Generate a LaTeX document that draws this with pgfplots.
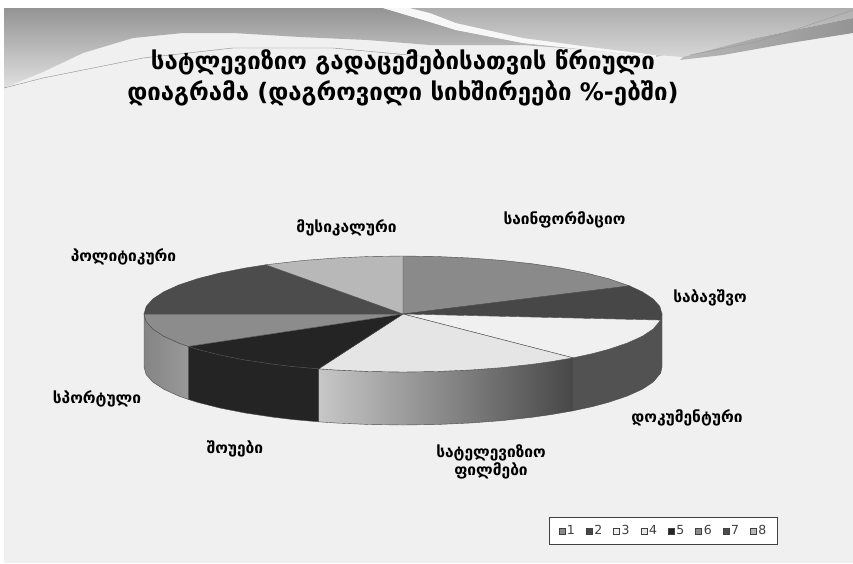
\documentclass[border=0pt]{standalone}
\usepackage{pgfplots}
\pgfplotsset{compat=1.18}
\usepackage{fontspec}
\setmainfont{DejaVu Sans}
\begin{document}
\begin{tikzpicture}
\begin{axis}[
  width=853pt, height=563pt, scale only axis,
  xmin=0, xmax=853, ymin=0, ymax=563, y dir=reverse,
  axis lines=none, clip=true,
  legend columns=8,
  legend style={at={(axis cs:663.5,531)}, anchor=center, draw=black!75, fill=white,
    font=\fontsize{12.5}{13}\selectfont\color{black!75}, inner xsep=9pt, inner ysep=6pt,
    /tikz/every even column/.append style={column sep=9pt}},
  legend image code/.code={\draw[#1,draw=black!75] (0pt,-3pt) rectangle (6pt,3pt);},
]
% page and background
\addplot[forget plot, draw=none, fill=white] coordinates {(0,0)(853,0)(853,563)(0,563)} -- cycle;
\addplot[forget plot, draw=none, fill=black!6] coordinates {(4,8)(853,8)(853,563)(4,563)} -- cycle;
% banner, left part
\addplot[forget plot, draw=none, top color=black!42, bottom color=black!12] coordinates {
  (4,8)(383,8)(430,22)(456,30)(523,43)(590,50)(656,57)(663,55)(590,50)(523,45)(430,45)(367,40)(300,37)(233,33)(183,33)(133,38)(83,53)(43,72)(4,88)} -- cycle;
% white ribbon between the parts
\addplot[forget plot, draw=none, fill=black!3] coordinates {(383,8)(410,8)(430,13)(456,23)(523,38)(590,47)(656,55)(656,57)(590,50)(523,43)(456,30)(430,22)} -- cycle;
% banner, right part
\addplot[forget plot, draw=none, top color=black!32, bottom color=black!16] coordinates {
  (410,8)(853,8)(853,18)(756,38)(683,57)(656,55)(590,47)(523,38)(456,23)(430,13)} -- cycle;
\addplot[forget plot, draw=none, left color=black!28, right color=black!42] coordinates {
  (683,57)(756,38)(853,18)(853,33)(790,43)(723,55)(680,60)} -- cycle;
% thin lines on the banner
\addplot[forget plot, black!45, thin] coordinates {(4,88)(43,78)(83,70)(143,58)(233,48)(333,48)(430,57)};
\addplot[forget plot, black!40, thin] coordinates {(690,55)(756,42)(800,28)(853,10)};
% side walls
\addplot[forget plot, draw=black!70, thin, fill=black!68] coordinates {(662,314)(660.6,320.1)(653.2,329.0)(642.3,336.2)(627.3,343.0)(608.5,349.3)(592.4,353.6)(572.9,357.8)(572.9,410.8)(592.4,406.6)(608.5,402.3)(627.3,396.0)(642.3,389.2)(653.2,382.0)(660.6,373.1)(662,367)} -- cycle;
\addplot[forget plot, draw=black!70, thin, left color=black!22, right color=black!72] coordinates {(572.9,357.8)(551.6,361.5)(532.5,364.2)(502.1,367.6)(470.0,370.0)(436.8,371.5)(403,372)(369.2,371.5)(336.0,370.0)(318.7,368.8)(318.7,421.8)(336.0,423.0)(369.2,424.5)(403,425)(436.8,424.5)(470.0,423.0)(502.1,420.6)(532.5,417.2)(551.6,414.5)(572.9,410.8)} -- cycle;
\addplot[forget plot, draw=black!70, thin, fill=black!86] coordinates {(318.7,368.8)(293.5,366.6)(273.5,364.2)(245.3,360.0)(219.9,355.0)(197.5,349.3)(188.3,346.4)(188.3,399.4)(197.5,402.3)(219.9,408.0)(245.3,413.0)(273.5,417.2)(293.5,419.6)(318.7,421.8)} -- cycle;
\addplot[forget plot, draw=black!70, thin, left color=black!48, right color=black!40] coordinates {(188.3,346.4)(178.7,343.0)(163.7,336.2)(152.8,329.0)(146.2,321.6)(144,314)(144,367)(146.2,374.6)(152.8,382.0)(163.7,389.2)(178.7,396.0)(188.3,399.4)} -- cycle;
% top face, one slice per legend entry
\addplot[draw=black!70, thin, fill=black!46] coordinates {(403,314)(403.0,256.0)(436.8,256.5)(470.0,258.0)(502.1,260.4)(532.5,263.8)(560.7,268.0)(586.1,273.0)(608.5,278.7)(629.5,285.9)} -- cycle;
\addplot[draw=black!70, thin, fill=black!72] coordinates {(403,314)(629.5,285.9)(642.3,291.8)(653.2,299.0)(659.8,306.4)(662,314)(660.6,320.1)} -- cycle;
\addplot[draw=black!70, thin, fill=black!6] coordinates {(403,314)(660.6,320.1)(653.2,329.0)(642.3,336.2)(627.3,343.0)(608.5,349.3)(592.4,353.6)(572.9,357.8)} -- cycle;
\addplot[draw=black!70, thin, fill=black!10] coordinates {(403,314)(572.9,357.8)(551.6,361.5)(532.5,364.2)(502.1,367.6)(470.0,370.0)(436.8,371.5)(403,372)(369.2,371.5)(336.0,370.0)(318.7,368.8)} -- cycle;
\addplot[draw=black!70, thin, fill=black!86] coordinates {(403,314)(318.7,368.8)(293.5,366.6)(273.5,364.2)(245.3,360.0)(219.9,355.0)(197.5,349.3)(188.3,346.4)} -- cycle;
\addplot[draw=black!70, thin, fill=black!45] coordinates {(403,314)(188.3,346.4)(178.7,343.0)(163.7,336.2)(152.8,329.0)(146.2,321.6)(144,314)} -- cycle;
\addplot[draw=black!70, thin, fill=black!70] coordinates {(403,314)(144,314)(146.2,306.4)(152.8,299.0)(163.7,291.8)(178.7,285.0)(197.5,278.7)(219.9,273.0)(245.3,268.0)(265.8,264.8)} -- cycle;
\addplot[draw=black!70, thin, fill=black!28] coordinates {(403,314)(265.8,264.8)(303.9,260.4)(336.0,258.0)(369.2,256.5)(403,256)} -- cycle;
\legend{1,2,3,4,5,6,7,8}
% title and labels
\node[align=center, font=\bfseries\fontsize{24}{31}\selectfont] at (axis cs:403,78) {სატლევიზიო გადაცემებისათვის წრიული\\დიაგრამა (დაგროვილი სიხშირეები \%-ებში)};
\tikzset{lab/.style={align=center, font=\bfseries\fontsize{15.5}{18}\selectfont}}
\node[lab] at (axis cs:346.5,228) {მუსიკალური};
\node[lab] at (axis cs:564.5,220) {საინფორმაციო};
\node[lab] at (axis cs:710,298) {საბავშვო};
\node[lab] at (axis cs:687,418) {დოკუმენტური};
\node[lab] at (axis cs:491,462) {სატელევიზიო\\ფილმები};
\node[lab] at (axis cs:235,449) {შოუები};
\node[lab] at (axis cs:97,399) {სპორტული};
\node[lab] at (axis cs:123.5,257) {პოლიტიკური};
\end{axis}
\end{tikzpicture}
\end{document}
